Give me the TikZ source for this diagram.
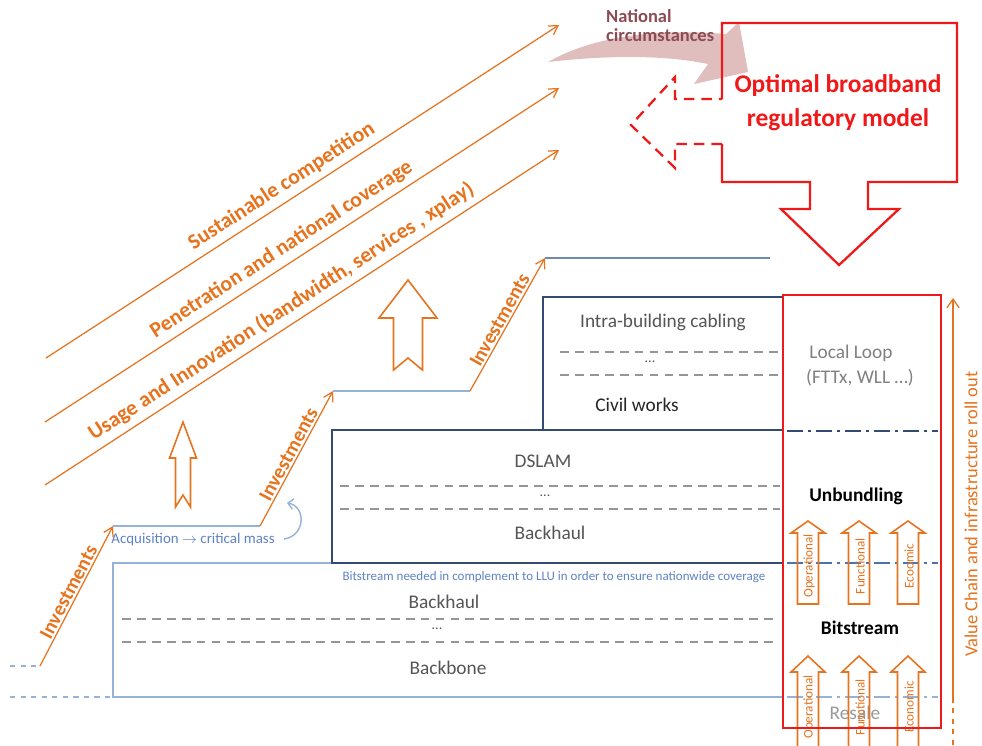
\documentclass[tikz,border=0pt]{standalone}
\usepackage{fontspec}
\setmainfont{Carlito}
\usepackage{tikz}
\usetikzlibrary{arrows.meta}

\definecolor{orng}{RGB}{230,115,30}
\definecolor{lblue}{RGB}{149,179,215}
\definecolor{dblue}{RGB}{52,76,115}
\definecolor{mblue}{RGB}{75,115,175}
\definecolor{tblue}{RGB}{95,130,195}
\definecolor{rd}{RGB}{240,25,25}
\definecolor{pinkish}{RGB}{224,190,190}
\definecolor{maroon}{RGB}{140,75,85}
\definecolor{txtgray}{RGB}{85,85,85}
\definecolor{dashgray}{RGB}{150,150,150}

% hollow up arrow: x, top, head base, bottom, head half, shaft half, notch
\newcommand{\hollowup}[7]{%
  \draw[orng,line width=0.9pt] (#1,#2) -- (#1+#5,#3) -- (#1+#6,#3) -- (#1+#6,#4)
    -- (#1,#4-#7) -- (#1-#6,#4) -- (#1-#6,#3) -- (#1-#5,#3) -- cycle;}

\begin{document}
\begin{tikzpicture}[x=0.02cm,y=-0.02cm,
  oline/.style={orng,line width=0.7pt,-{Straight Barb[length=5pt,width=6pt]}},
  otext/.style={text=orng,font=\fontsize{12.3}{14}\selectfont\bfseries},
  invest/.style={text=orng,font=\fontsize{11.5}{13}\selectfont\bfseries,sloped,above,inner sep=1pt},
  lbl/.style={text=txtgray,font=\fontsize{11}{13}\selectfont},
  dots/.style={text=txtgray,font=\fontsize{8}{9}\selectfont},
  sep/.style={dashgray,line width=1.2pt,dash pattern=on 5pt off 3.5pt},
  dashdot/.style={line width=1.5pt,dash pattern=on 9pt off 3pt on 1.5pt off 3pt},
  small/.style={text=orng,font=\fontsize{7.5}{9}\selectfont,rotate=90}]

\useasboundingbox (0,0) rectangle (982,745);
\fill[white] (0,0) rectangle (982,745);

% objectives
\draw[oline] (46,358) -- node[pos=0.476,sloped,above,otext]{Sustainable competition} (559,25);
\draw[oline] (45,422) -- node[pos=0.477,sloped,above,otext]{Penetration and national coverage} (559,88);
\draw[oline] (45,485) -- node[pos=0.477,sloped,above,otext]{Usage and Innovation (bandwidth, services , xplay)} (559,150);

% growth arrows
\hollowup{408}{280}{318}{370}{29}{14.5}{12}
\hollowup{183}{422}{458}{507}{13.5}{7.5}{12}

% staircase
\coordinate (s0) at (40,666);
\coordinate (s1) at (113,526);
\coordinate (s2) at (260,526);
\coordinate (s3) at (333,391);
\coordinate (s4) at (470,391);
\coordinate (s5) at (545,258);
\coordinate (s6) at (770,258);
\draw[lblue,dashed,line width=1pt] (10,666) -- (s0);
\draw[oline] (s0) -- node[invest]{Investments} (s1);
\draw[lblue,line width=1.2pt] (s1) -- (s2);
\draw[oline] (s2) -- node[invest]{Investments} (s3);
\draw[lblue,line width=1.2pt] (s3) -- (s4);
\draw[oline] (s4) -- node[invest]{Investments} (s5);
\draw[lblue!60!dblue,line width=1.2pt] (s5) -- (s6);

\node[text=tblue,font=\fontsize{8.5}{10}\selectfont] (acq) at (193,539) {Acquisition $\rightarrow$ critical mass};
\draw[lblue,line width=0.8pt,-{Straight Barb[length=3pt]}] (284,539) .. controls (306,536) and (306,506) .. (287,503);

% layers
\draw[lblue,line width=1.3pt] (783,563) -- (113,563) -- (113,697) -- (783,697);
\draw[lblue,dashed,line width=1pt] (10,697) -- (113,697);
\draw[dblue,line width=1.6pt] (783,430) -- (332,430) -- (332,563) -- (783,563);
\draw[dblue,line width=1.6pt] (783,297) -- (543,297) -- (543,430);

\draw[sep] (560,352) -- (778,352);
\draw[sep] (560,375) -- (778,375);
\draw[sep] (340,486) -- (780,486);
\draw[sep] (340,509) -- (780,509);
\draw[sep] (122,619) -- (779,619);
\draw[sep] (122,642) -- (779,642);

\node[lbl] (intra) at (663,322) {Intra-building cabling};
\node[dots] (dots1) at (650,362) {...};
\node[lbl,text=black!85] (civil) at (637,405) {Civil works};
\node[lbl] (dslam) at (543,461) {DSLAM};
\node[dots] (dots2) at (545,496) {...};
\node[lbl] (bh1) at (550,533) {Backhaul};
\node[text=tblue,font=\fontsize{7.4}{9}\selectfont] (need) at (554,577) {Bitstream needed in complement to LLU in order to ensure nationwide coverage};
\node[lbl] (bh2) at (444,602) {Backhaul};
\node[dots] (dots3) at (437,629) {...};
\node[lbl] (bb) at (448,668) {Backbone};

% access column
\draw[dblue,dashdot] (787,431) -- (938,431);
\draw[mblue,dashdot] (787,563) -- (938,563);
\draw[lblue,dashdot] (787,697) -- (938,697);
\node[lbl,text=black!50] (loop) at (851,353) {Local Loop};
\node[lbl,text=black!50] (fttx) at (860,378) {(FTTx, WLL …)};
\node[font=\fontsize{11}{13}\selectfont\bfseries] (unb) at (856,496) {Unbundling};
\node[font=\fontsize{11}{13}\selectfont\bfseries] (bit) at (860,628) {Bitstream};
\node[lbl,text=black!40] (resale) at (855,713) {Resale};

\hollowup{808}{521}{533}{604}{17}{10.5}{0}
\hollowup{859}{521}{533}{604}{17}{10.5}{0}
\hollowup{908}{521}{533}{604}{17}{10.5}{0}
\node[small] (op1) at (809,566) {Operational};
\node[small] (fu1) at (860,566) {Functional};
\node[small] (ec1) at (909,566) {Ecoomic};
\hollowup{808}{656}{672}{760}{17}{10.5}{0}
\hollowup{859}{656}{672}{760}{17}{10.5}{0}
\hollowup{908}{656}{672}{760}{17}{10.5}{0}
\node[small] (op2) at (809,707) {Operational};
\node[small] (fu2) at (860,707) {Functional};
\node[small] (ec2) at (909,707) {Economic};

\draw[rd,line width=1.2pt] (783,295) rectangle (941,728);

\draw[orng,line width=0.7pt,-{Straight Barb[length=5pt,width=7pt]}] (953,703) -- (953,298);
\draw[orng,line width=0.7pt,dashed] (953,745) -- (953,703);
\node[rotate=90,text=orng,font=\fontsize{10.5}{12}\selectfont] (chain) at (971,514) {Value Chain and infrastructure roll out};

% regulatory model
\fill[pinkish] (548,62) .. controls (590,38) and (650,28) .. (726,34) -- (739,22) -- (748,72)
  -- (694,84) -- (708,64) .. controls (660,54) and (600,56) .. (548,62) -- cycle;
\node[anchor=west,text=maroon,font=\fontsize{10.5}{12}\selectfont\bfseries] (nat1) at (600,16) {National};
\node[anchor=west,text=maroon,font=\fontsize{10.5}{12}\selectfont\bfseries] (nat2) at (600,35) {circumstances};

\draw[rd,line width=1.3pt] (722,99) -- (722,23) -- (957,23) -- (957,182) -- (868,182) -- (868,209)
  -- (899,209) -- (839,265) -- (781,209) -- (810,209) -- (810,182) -- (722,182) -- (722,144);
\draw[rd,line width=1.3pt,dash pattern=on 6pt off 4pt] (722,144) -- (675,144) -- (675,168) -- (631,125) -- (675,77) -- (675,99) -- (722,99);
\node[text=rd,font=\fontsize{14.5}{17}\selectfont\bfseries] (opt) at (838,86) {Optimal broadband};
\node[text=rd,font=\fontsize{14.5}{17}\selectfont\bfseries] (reg) at (838,120) {regulatory model};

\end{tikzpicture}
\end{document}
